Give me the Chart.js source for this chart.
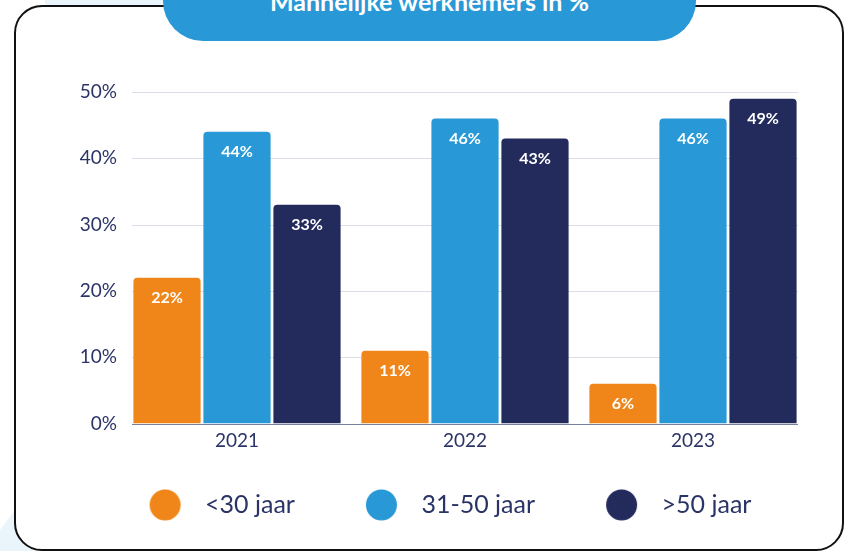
<!DOCTYPE html>
<html>
<head>
<meta charset="utf-8">
<script src="https://cdn.jsdelivr.net/npm/chart.js@4"></script>
<style>
  html, body { margin: 0; padding: 0; background: #fff; }
  #wrap { position: relative; width: 844px; height: 551px; overflow: hidden; }
  .deco-top { position: absolute; left: 45px; top: 0; width: 140px; height: 5px; background: #eaf4fb; }
  .deco-bottom { position: absolute; left: 0; top: 470px; width: 60px; height: 81px; background: #eaf4fb;
    clip-path: polygon(45px 0, 60px 0, 60px 81px, 0 81px, 0 60px); }
  .frame { position: absolute; left: 14px; top: 5px; width: 826px; height: 542px;
    border: 2px solid #111; border-radius: 28px; background: #fff; }
  .pill { position: absolute; left: 163px; top: -40px; width: 533px; height: 81px;
    background: #2899d6; border-radius: 40px; color: #fff; font: bold 25px Lato, sans-serif;
    text-align: center; line-height: 26px; }
  .pill span { position: absolute; left: 0; right: 0; top: 28px; }
  canvas { position: absolute; left: 0; top: 0; }
</style>
</head>
<body>
<div id="wrap">
  <div class="deco-top"></div>
  <div class="deco-bottom"></div>
  <div class="frame"></div>
  <div class="pill"><span>Mannelijke werknemers in %</span></div>
  <canvas id="chart" width="844" height="551"></canvas>
</div>
<script>
  // Categories and series (values in %)
  const years = ["2021", "2022", "2023"];
  const under30 = [22, 11, 6];
  const age31to50 = [44, 46, 46];
  const over50 = [33, 43, 49];
  const seriesLabels = ["<30 jaar", "31-50 jaar", ">50 jaar"];
  const yTicks = [0, 10, 20, 30, 40, 50];

  const colors = ["#f0861a", "#2899d6", "#232b5c"];
  const textColor = "#2b3467";
  const catPct = 0.921;

  // legend marker: circle sitting in a wider transparent box so the text gap matches
  function legendDot(color) {
    const c = document.createElement("canvas");
    c.width = 80; c.height = 32;
    const g = c.getContext("2d");
    g.fillStyle = color;
    g.beginPath();
    g.arc(52.5, 16, 15.5, 0, Math.PI * 2);
    g.fill();
    return c;
  }
  const dots = colors.map(legendDot);

  // horizontal grid lines, stopping at the outer edges of the bar groups
  const gridLines = {
    id: "gridLines",
    beforeDatasetsDraw(chart) {
      const { ctx, chartArea, scales } = chart;
      const inset = (chartArea.right - chartArea.left) / years.length * (1 - catPct) / 2;
      ctx.save();
      ctx.lineWidth = 1;
      yTicks.forEach(v => {
        const y = Math.round(scales.y.getPixelForValue(v)) + 0.5;
        ctx.strokeStyle = v === 0 ? "#7a7f9c" : "#dcdde6";
        ctx.beginPath();
        ctx.moveTo(chartArea.left + inset, y);
        ctx.lineTo(chartArea.right - inset, y);
        ctx.stroke();
      });
      ctx.restore();
    }
  };

  // white percentage label inside the top of each bar
  const barLabels = {
    id: "barLabels",
    afterDatasetsDraw(chart) {
      const ctx = chart.ctx;
      ctx.save();
      ctx.font = "bold 16px Lato, sans-serif";
      ctx.fillStyle = "#fff";
      ctx.textAlign = "center";
      ctx.textBaseline = "middle";
      chart.data.datasets.forEach((ds, i) => {
        chart.getDatasetMeta(i).data.forEach((bar, j) => {
          ctx.fillText(ds.data[j] + "%", bar.x, bar.y + 20);
        });
      });
      ctx.restore();
    }
  };

  const ctx = document.getElementById("chart").getContext("2d");
  new Chart(ctx, {
    type: "bar",
    data: {
      labels: years,
      datasets: [
        { label: seriesLabels[0], data: under30, backgroundColor: colors[0] },
        { label: seriesLabels[1], data: age31to50, backgroundColor: colors[1] },
        { label: seriesLabels[2], data: over50, backgroundColor: colors[2] }
      ]
    },
    options: {
      responsive: false,
      animation: false,
      categoryPercentage: catPct,
      barPercentage: 0.96,
      borderRadius: 4,
      layout: { padding: { left: 57, right: 37, top: 92, bottom: 23.6 } },
      plugins: {
        title: { display: false },
        tooltip: { enabled: false },
        legend: {
          position: "bottom",
          labels: {
            usePointStyle: true,
            pointStyleWidth: 80,
            boxHeight: 22,
            padding: 34,
            color: textColor,
            font: { family: "Lato, sans-serif", size: 25 },
            generateLabels(chart) {
              const items = Chart.defaults.plugins.legend.labels.generateLabels(chart);
              items.forEach((it, i) => { it.pointStyle = dots[i]; });
              return items;
            }
          }
        }
      },
      scales: {
        x: {
          grid: { display: false, drawTicks: false },
          border: { display: false },
          ticks: { color: textColor, padding: 6, font: { family: "Lato, sans-serif", size: 19 } }
        },
        y: {
          min: 0,
          max: 50,
          afterBuildTicks(scale) { scale.ticks = yTicks.map(v => ({ value: v })); },
          afterFit(scale) { scale.width = 66; },
          grid: { display: false, drawTicks: false },
          border: { display: false },
          ticks: {
            color: textColor,
            padding: 6,
            font: { family: "Lato, sans-serif", size: 19 },
            callback: v => v + "%"
          }
        }
      }
    },
    plugins: [gridLines, barLabels]
  });
</script>
</body>
</html>
